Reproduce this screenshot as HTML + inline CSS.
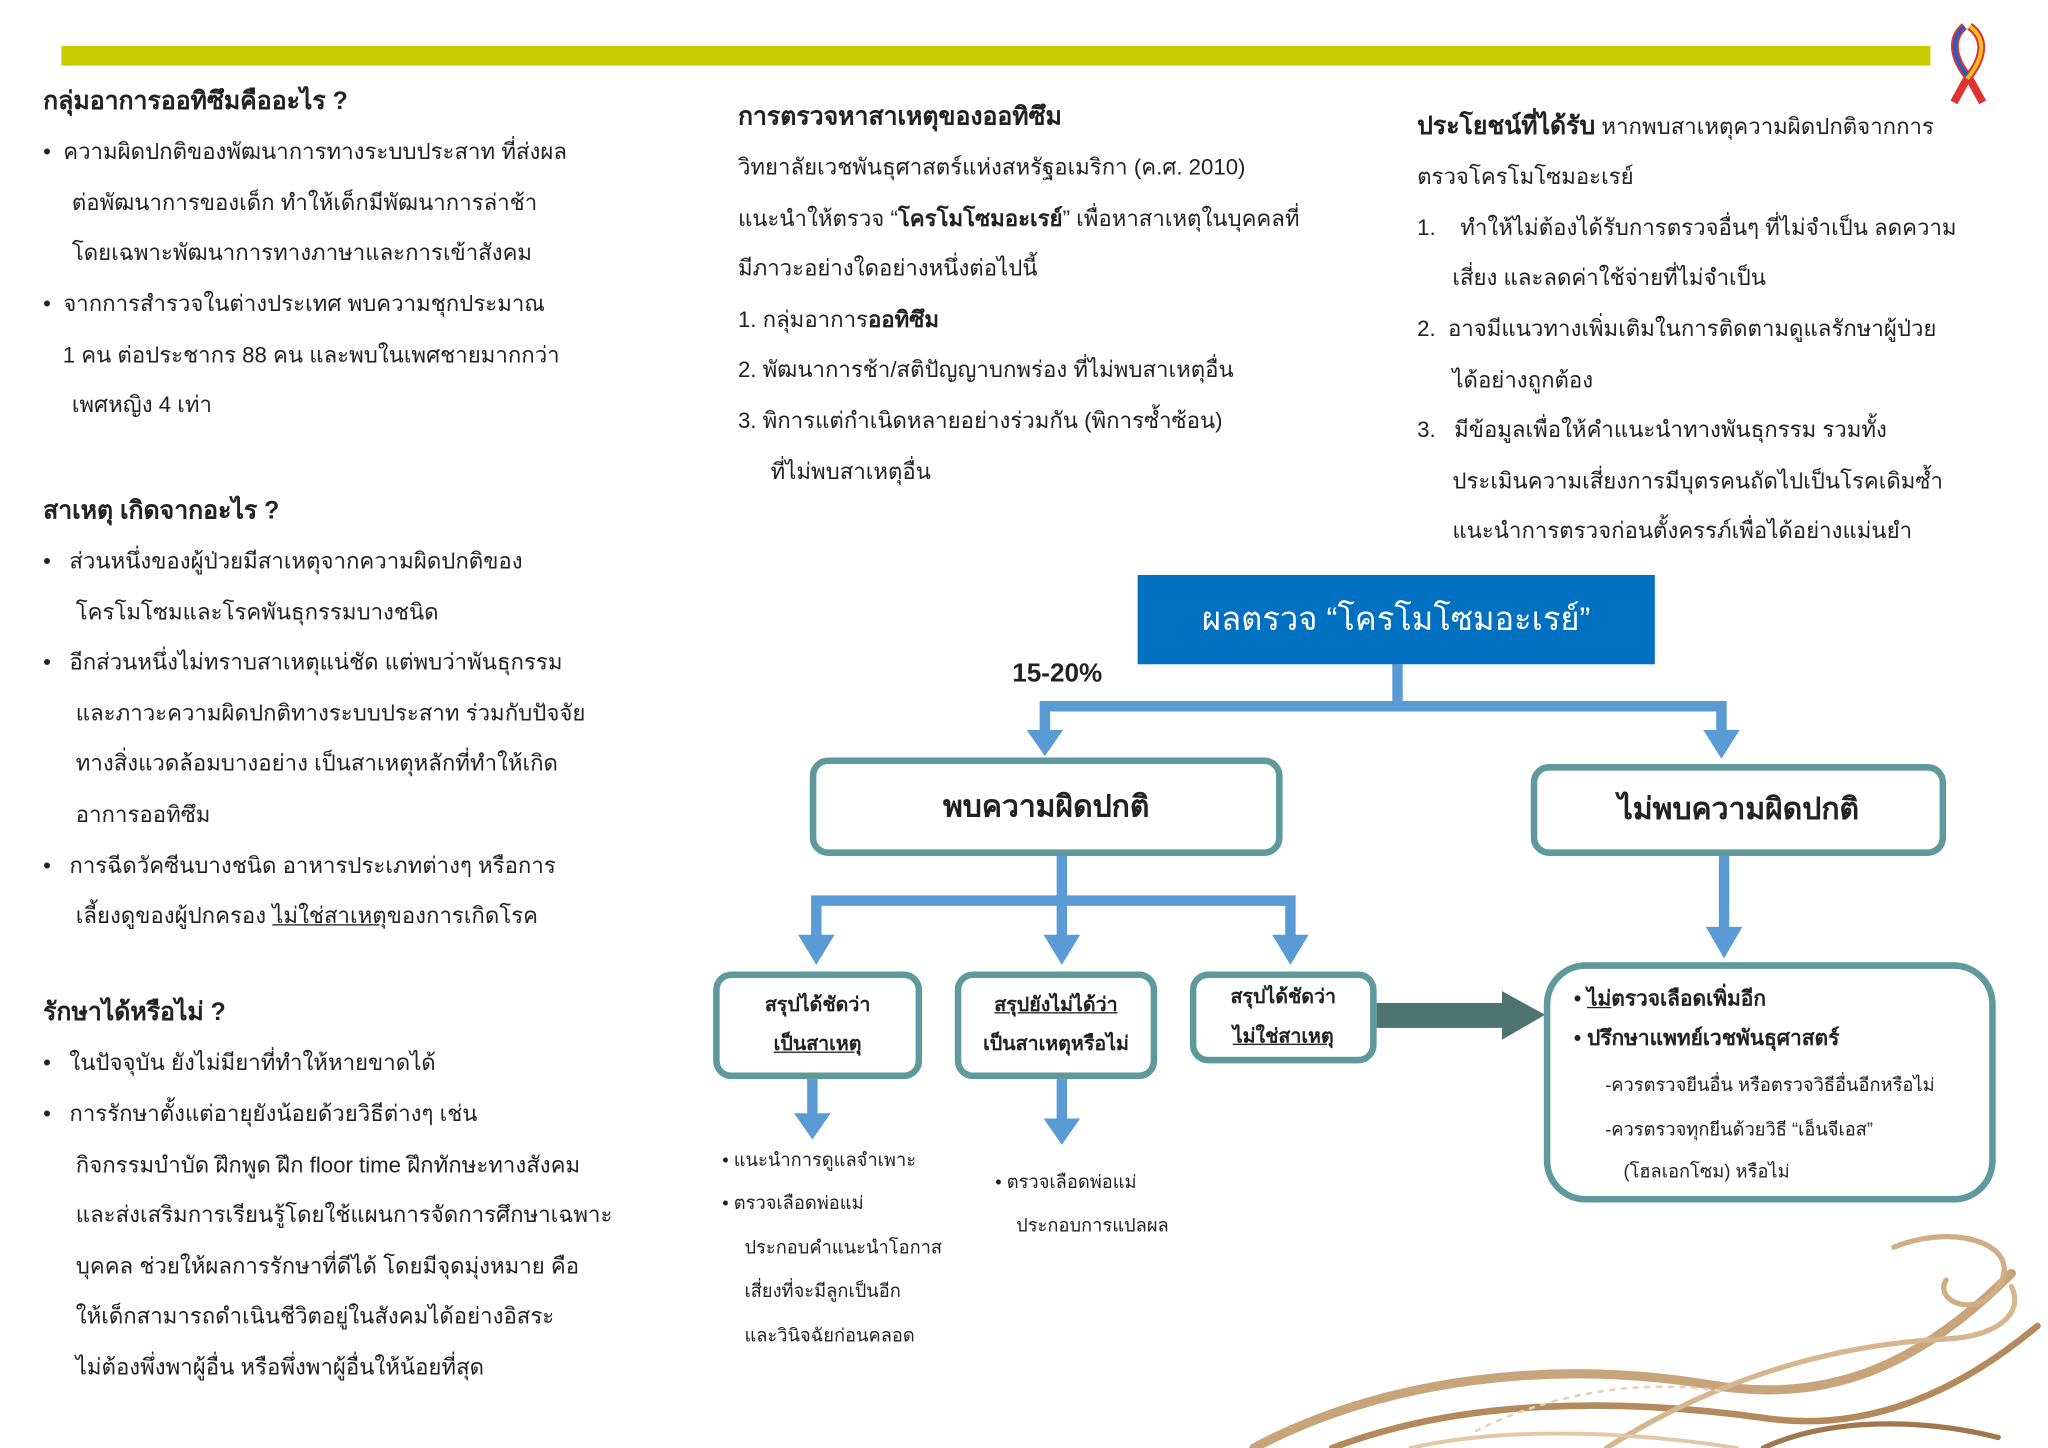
<!DOCTYPE html>
<html><head><meta charset="utf-8"><style>
html,body{margin:0;padding:0;background:#fff;width:2048px;height:1448px;overflow:hidden}
#w{position:absolute;left:0;top:0;width:1568px;height:1103px;transform:scale(1.3061,1.3128);transform-origin:0 0;font-family:"Liberation Sans","DejaVu Sans",sans-serif;color:#222}
.t{position:absolute;font-size:17px;white-space:nowrap;line-height:20px}
.h{font-weight:bold;font-size:19px}
.b{position:absolute;border:5px solid #5f9999;border-radius:14px;box-sizing:border-box;background:#fff;display:flex;align-items:center;justify-content:center;text-align:center}
.s{font-size:15px;font-weight:bold;line-height:30px}
u{text-decoration:underline}
</style></head><body><div id="w">
<div style="position:absolute;left:47px;top:35px;width:1431px;height:15px;background:#c9cc00"></div>
<svg style="position:absolute;left:1486px;top:16px" width="46" height="66"><path d="M18 4 C6 14 10 30 22 44 L32 62 M22 4 C36 14 32 30 20 44 L10 62" stroke="#d33" stroke-width="6" fill="none"/><path d="M18 4 C6 14 10 30 22 44" stroke="#2a5cc0" stroke-width="3" fill="none"/><path d="M22 4 C36 14 32 30 20 44" stroke="#f0c020" stroke-width="3" fill="none"/></svg>

<!-- left column -->
<div class="t h" style="left:33px;top:68px">กลุ่มอาการออทิซึมคืออะไร ?</div>
<div class="t" style="left:33px;top:106px">•&nbsp; ความผิดปกติของพัฒนาการทางระบบประสาท ที่ส่งผล</div>
<div class="t" style="left:55px;top:145px">ต่อพัฒนาการของเด็ก ทำให้เด็กมีพัฒนาการล่าช้า</div>
<div class="t" style="left:55px;top:183px">โดยเฉพาะพัฒนาการทางภาษาและการเข้าสังคม</div>
<div class="t" style="left:33px;top:222px">•&nbsp; จากการสำรวจในต่างประเทศ พบความชุกประมาณ</div>
<div class="t" style="left:48px;top:261px">1 คน ต่อประชากร 88 คน และพบในเพศชายมากกว่า</div>
<div class="t" style="left:55px;top:299px">เพศหญิง 4 เท่า</div>
<div class="t h" style="left:33px;top:380px">สาเหตุ เกิดจากอะไร ?</div>
<div class="t" style="left:33px;top:418px">•&nbsp;&nbsp; ส่วนหนึ่งของผู้ป่วยมีสาเหตุจากความผิดปกติของ</div>
<div class="t" style="left:58px;top:457px">โครโมโซมและโรคพันธุกรรมบางชนิด</div>
<div class="t" style="left:33px;top:495px">•&nbsp;&nbsp; อีกส่วนหนึ่งไม่ทราบสาเหตุแน่ชัด แต่พบว่าพันธุกรรม</div>
<div class="t" style="left:58px;top:534px">และภาวะความผิดปกติทางระบบประสาท ร่วมกับปัจจัย</div>
<div class="t" style="left:58px;top:572px">ทางสิ่งแวดล้อมบางอย่าง เป็นสาเหตุหลักที่ทำให้เกิด</div>
<div class="t" style="left:58px;top:611px">อาการออทิซึม</div>
<div class="t" style="left:33px;top:650px">•&nbsp;&nbsp; การฉีดวัคซีนบางชนิด อาหารประเภทต่างๆ หรือการ</div>
<div class="t" style="left:58px;top:688px">เลี้ยงดูของผู้ปกครอง <u>ไม่ใช่สาเหตุ</u>ของการเกิดโรค</div>
<div class="t h" style="left:33px;top:762px">รักษาได้หรือไม่ ?</div>
<div class="t" style="left:33px;top:800px">•&nbsp;&nbsp; ในปัจจุบัน ยังไม่มียาที่ทำให้หายขาดได้</div>
<div class="t" style="left:33px;top:839px">•&nbsp;&nbsp; การรักษาตั้งแต่อายุยังน้อยด้วยวิธีต่างๆ เช่น</div>
<div class="t" style="left:58px;top:878px">กิจกรรมบำบัด ฝึกพูด ฝึก floor time ฝึกทักษะทางสังคม</div>
<div class="t" style="left:58px;top:916px">และส่งเสริมการเรียนรู้โดยใช้แผนการจัดการศึกษาเฉพาะ</div>
<div class="t" style="left:58px;top:955px">บุคคล ช่วยให้ผลการรักษาที่ดีได้ โดยมีจุดมุ่งหมาย คือ</div>
<div class="t" style="left:58px;top:993px">ให้เด็กสามารถดำเนินชีวิตอยู่ในสังคมได้อย่างอิสระ</div>
<div class="t" style="left:58px;top:1032px">ไม่ต้องพึ่งพาผู้อื่น หรือพึ่งพาผู้อื่นให้น้อยที่สุด</div>

<!-- middle column -->
<div class="t h" style="left:565px;top:80px">การตรวจหาสาเหตุของออทิซึม</div>
<div class="t" style="left:565px;top:118px">วิทยาลัยเวชพันธุศาสตร์แห่งสหรัฐอเมริกา (ค.ศ. 2010)</div>
<div class="t" style="left:565px;top:157px">แนะนำให้ตรวจ “<b>โครโมโซมอะเรย์</b>” เพื่อหาสาเหตุในบุคคลที่</div>
<div class="t" style="left:565px;top:195px">มีภาวะอย่างใดอย่างหนึ่งต่อไปนี้</div>
<div class="t" style="left:565px;top:234px">1. กลุ่มอาการ<b>ออทิซึม</b></div>
<div class="t" style="left:565px;top:272px">2. พัฒนาการช้า/สติปัญญาบกพร่อง ที่ไม่พบสาเหตุอื่น</div>
<div class="t" style="left:565px;top:311px">3. พิการแต่กำเนิดหลายอย่างร่วมกัน (พิการซ้ำซ้อน)</div>
<div class="t" style="left:590px;top:350px">ที่ไม่พบสาเหตุอื่น</div>

<!-- right column -->
<div class="t" style="left:1085px;top:87px"><b style="font-size:19px">ประโยชน์ที่ได้รับ</b> หากพบสาเหตุความผิดปกติจากการ</div>
<div class="t" style="left:1085px;top:125px">ตรวจโครโมโซมอะเรย์</div>
<div class="t" style="left:1085px;top:164px">1.&nbsp;&nbsp;&nbsp; ทำให้ไม่ต้องได้รับการตรวจอื่นๆ ที่ไม่จำเป็น ลดความ</div>
<div class="t" style="left:1112px;top:202px">เสี่ยง และลดค่าใช้จ่ายที่ไม่จำเป็น</div>
<div class="t" style="left:1085px;top:241px">2.&nbsp; อาจมีแนวทางเพิ่มเติมในการติดตามดูแลรักษาผู้ป่วย</div>
<div class="t" style="left:1112px;top:280px">ได้อย่างถูกต้อง</div>
<div class="t" style="left:1085px;top:318px">3.&nbsp;&nbsp; มีข้อมูลเพื่อให้คำแนะนำทางพันธุกรรม รวมทั้ง</div>
<div class="t" style="left:1112px;top:357px">ประเมินความเสี่ยงการมีบุตรคนถัดไปเป็นโรคเดิมซ้ำ</div>
<div class="t" style="left:1112px;top:395px">แนะนำการตรวจก่อนตั้งครรภ์เพื่อได้อย่างแม่นยำ</div>

<!-- swirl decoration -->
<svg style="position:absolute;left:930px;top:920px" width="638" height="183">
<g fill="none" stroke-linecap="round">
<path d="M30 183 C130 130 260 115 380 135 C470 150 540 120 610 50" stroke="#c8a47a" stroke-width="7"/>
<path d="M90 183 C190 145 310 145 420 160 C500 172 570 140 630 90" stroke="#b38a5c" stroke-width="5"/>
<path d="M300 183 C360 145 450 105 560 100 C600 98 620 80 610 60" stroke="#d6b68e" stroke-width="4"/>
<path d="M420 183 C470 160 540 160 600 175" stroke="#a07850" stroke-width="4"/>
<path d="M520 30 C570 10 620 30 600 60 C585 85 550 72 560 55" stroke="#cfae86" stroke-width="4"/>
<path d="M150 183 C230 165 330 172 400 183" stroke="#e0c8a8" stroke-width="3"/>
<path d="M200 170 C260 140 330 130 390 140" stroke="#e6d2b8" stroke-width="2" stroke-dasharray="3 6"/>
</g></svg>

<!-- flowchart connectors -->
<svg style="position:absolute;left:0;top:0" width="1568" height="1103">
<g stroke="#5b9bd5" stroke-width="8" fill="none">
<path d="M1070 506 V538 M800 538 H1318 M800 534 V560 M1318 534 V560"/>
<path d="M813 651 V686 M621 686 H988 M625 682 V718 M813 682 V718 M988 682 V718"/>
<path d="M1320 651 V712"/>
<path d="M622 822 V852 M813 822 V856"/>
</g>
<g fill="#5b9bd5">
<polygon points="786,556 814,556 800,576"/>
<polygon points="1304,556 1332,556 1318,578"/>
<polygon points="611,712 639,712 625,735"/>
<polygon points="799,712 827,712 813,735"/>
<polygon points="974,712 1002,712 988,735"/>
<polygon points="1306,706 1334,706 1320,730"/>
<polygon points="608,848 636,848 622,868"/>
<polygon points="799,852 827,852 813,872"/>
</g>
<rect x="1054" y="764" width="100" height="19" fill="#4f7470"/>
<polygon points="1150,755 1183,773 1150,792" fill="#4f7470"/>
</svg>

<div style="position:absolute;left:871px;top:438px;width:396px;height:68px;background:#0070c0;color:#fff;font-size:25px;display:flex;align-items:center;justify-content:center">ผลตรวจ “โครโมโซมอะเรย์”</div>
<div class="t" style="left:775px;top:503px;font-size:20px;font-weight:bold">15-20%</div>

<div class="b" style="left:620px;top:577px;width:362px;height:75px;font-size:23px;font-weight:bold">พบความผิดปกติ</div>
<div class="b" style="left:1172px;top:582px;width:318px;height:70px;font-size:23px;font-weight:bold">ไม่พบความผิดปกติ</div>

<div class="b s" style="left:546px;top:740px;width:160px;height:82px"><div>สรุปได้ชัดว่า<br><u>เป็นสาเหตุ</u></div></div>
<div class="b s" style="left:731px;top:740px;width:155px;height:82px"><div><u>สรุปยังไม่ได้ว่า</u><br>เป็นสาเหตุหรือไม่</div></div>
<div class="b s" style="left:911px;top:740px;width:143px;height:70px"><div>สรุปได้ชัดว่า<br><u>ไม่ใช่สาเหตุ</u></div></div>

<div class="b" style="left:1182px;top:733px;width:346px;height:183px;border-radius:32px;display:block;text-align:left">
<div class="t" style="left:18px;top:14px;font-weight:bold;font-size:16px">• <u>ไม่</u>ตรวจเลือดเพิ่มอีก</div>
<div class="t" style="left:18px;top:44px;font-weight:bold;font-size:16px">• ปรึกษาแพทย์เวชพันธุศาสตร์</div>
<div class="t" style="left:42px;top:78px;font-size:14px">-ควรตรวจยีนอื่น หรือตรวจวิธีอื่นอีกหรือไม่</div>
<div class="t" style="left:42px;top:112px;font-size:14px">-ควรตรวจทุกยีนด้วยวิธี “เอ็นจีเอส”</div>
<div class="t" style="left:56px;top:144px;font-size:14px">(โฮลเอกโซม) หรือไม่</div>
</div>

<div class="t" style="left:553px;top:873px;font-size:14px">• แนะนำการดูแลจำเพาะ</div>
<div class="t" style="left:553px;top:906px;font-size:14px">• ตรวจเลือดพ่อแม่</div>
<div class="t" style="left:570px;top:940px;font-size:14px">ประกอบคำแนะนำโอกาส</div>
<div class="t" style="left:570px;top:973px;font-size:14px">เสี่ยงที่จะมีลูกเป็นอีก</div>
<div class="t" style="left:570px;top:1007px;font-size:14px">และวินิจฉัยก่อนคลอด</div>
<div class="t" style="left:762px;top:890px;font-size:14px">• ตรวจเลือดพ่อแม่</div>
<div class="t" style="left:778px;top:923px;font-size:14px">ประกอบการแปลผล</div>
</div></body></html>
